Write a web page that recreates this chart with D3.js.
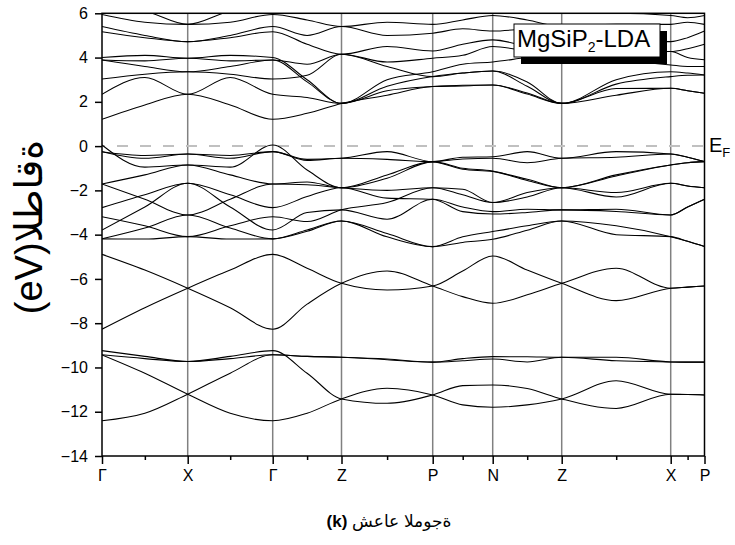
<!DOCTYPE html>
<html><head><meta charset="utf-8">
<script src="https://cdn.jsdelivr.net/npm/d3@7"></script>
<style>
body{margin:0;background:#fff;}
text{font-family:"Liberation Sans",Arial,"DejaVu Sans",sans-serif;}
</style></head>
<body><svg id="chart" width="735" height="545"></svg>
<script>
// high-symmetry k-points (cumulative path length) and labels
const kTicks = [0, 0.857, 1.707, 2.395, 3.307, 3.907, 4.597, 5.687, 6.025];
const kLabels = ["Γ","X","Γ","Z","P","N","Z","X","P"];
const yTicks = [6,4,2,0,-2,-4,-6,-8,-10,-12,-14];
// band energies (eV) at: Γ, mid, X, mid, Γ, mid, Z, mid, P, mid, N, mid, Z, mid, X, mid, P
const band_c1 = [1.21,1.86,2.34,1.86,1.21,1.48,1.93,2.3,2.69,2.72,2.76,2.35,1.93,2.3,2.61,2.5,2.39];
const band_c2 = [2.34,3.1,2.34,3.1,2.34,2.2,1.93,2.5,2.69,2.75,2.76,2.4,1.93,2.6,2.61,2.5,2.39];
const band_c3 = [3.03,3.25,3.36,3.25,3.03,3.2,4.15,3.6,3.14,3.3,3.39,2.7,1.93,2.8,3.14,3.2,3.21];
const band_c4 = [3.89,3.6,3.36,3.6,3.89,2.9,1.93,2.7,3.14,3.3,3.39,2.9,1.93,3.0,3.36,3.3,3.21];
const band_c5 = [4.0,4.1,3.97,4.1,4.0,3.0,1.93,3.0,3.36,3.7,3.8,4.0,4.15,3.9,3.665,3.6,3.6];
const band_c6 = [3.89,3.85,3.97,3.85,3.89,3.7,4.15,3.8,3.97,4.1,4.5,4.3,4.15,4.2,4.27,4.0,3.9];
const band_c7 = [5.17,4.9,4.72,4.9,5.17,4.6,4.15,4.5,4.3,4.6,4.8,4.5,4.15,4.6,4.27,4.4,4.6];
const band_c8 = [5.40,5.0,4.72,5.0,5.40,5.0,5.4,5.0,5.1,5.3,5.2,5.3,5.4,5.0,4.72,4.9,5.2];
const band_c9 = [5.95,5.6,5.5,5.6,5.95,5.7,5.4,5.6,5.5,5.7,5.9,5.7,5.4,5.5,5.5,5.6,5.5];
const band_c10 = [6.3,6.1,5.5,6.1,6.3,6.2,6.0,6.1,6.2,6.2,6.0,6.1,6.0,6.0,5.9,5.8,5.9];
const band_v1 = [0.05,-0.95,-0.85,-0.95,0.05,-1.08,-1.88,-1.3,-0.70,-1.0,-1.13,-1.55,-1.88,-1.35,-0.85,-0.75,-0.70];
const band_v2 = [-0.25,-0.42,-0.36,-0.42,-0.25,-0.6,-0.55,-0.25,-0.70,-0.5,-0.48,-0.25,-0.55,-0.25,-0.36,-0.5,-0.70];
const band_v3 = [-0.25,-0.55,-0.36,-0.55,-0.25,-0.65,-0.55,-0.6,-0.70,-0.58,-0.55,-0.75,-0.55,-0.5,-0.36,-0.5,-0.70];
const band_v4 = [-1.71,-1.3,-0.85,-1.3,-1.71,-1.62,-1.88,-1.45,-0.72,-1.05,-1.15,-1.5,-1.88,-1.3,-0.85,-0.75,-0.70];
const band_v5 = [-1.71,-2.4,-3.11,-2.4,-1.71,-1.75,-1.88,-2.0,-1.88,-1.95,-2.55,-2.1,-1.88,-2.3,-1.68,-1.8,-1.88];
const band_v6 = [-2.78,-2.2,-1.68,-2.2,-2.78,-2.28,-1.88,-2.35,-2.40,-2.96,-3.07,-3.0,-2.88,-2.95,-3.11,-2.75,-2.40];
const band_v7 = [-3.19,-3.6,-4.09,-3.6,-3.19,-3.41,-2.88,-2.55,-1.88,-2.2,-2.55,-2.3,-1.88,-2.1,-1.68,-1.8,-1.88];
const band_v8 = [-3.79,-2.75,-1.68,-2.75,-3.79,-3.0,-2.88,-3.3,-2.40,-2.75,-2.96,-2.85,-2.88,-2.85,-3.11,-2.75,-2.40];
const band_v9 = [-4.19,-4.2,-4.09,-4.2,-4.19,-3.79,-3.38,-3.95,-4.54,-4.1,-3.86,-3.6,-3.38,-3.6,-4.09,-4.3,-4.54];
const band_v10 = [-4.19,-3.7,-3.11,-3.7,-4.19,-3.85,-3.38,-4.1,-4.54,-4.35,-4.21,-3.8,-3.38,-4.0,-4.09,-4.3,-4.54];
const band_s1 = [-4.89,-5.6,-6.42,-7.3,-8.27,-7.14,-6.2,-5.64,-6.32,-6.8,-7.1,-6.72,-6.2,-5.52,-6.42,-6.37,-6.32];
const band_s2 = [-8.27,-7.3,-6.42,-5.6,-4.89,-5.52,-6.2,-6.5,-6.32,-5.64,-4.96,-5.6,-6.2,-6.98,-6.42,-6.37,-6.32];
const band_t1 = [-9.24,-9.5,-9.73,-9.5,-9.24,-10.26,-11.42,-11.62,-11.24,-10.82,-10.79,-10.95,-11.42,-11.85,-11.21,-11.22,-11.24];
const band_t2 = [-9.43,-9.6,-9.73,-9.6,-9.43,-9.5,-9.54,-9.62,-9.76,-9.6,-9.51,-9.52,-9.54,-9.54,-9.75,-9.76,-9.76];
const band_t3 = [-9.43,-10.26,-11.21,-12.07,-12.41,-12.07,-11.42,-10.94,-11.24,-11.69,-11.80,-11.69,-11.42,-10.6,-11.21,-11.22,-11.24];
const band_t4 = [-12.41,-12.07,-11.21,-10.26,-9.43,-9.5,-9.54,-9.65,-9.76,-9.7,-9.62,-9.75,-9.54,-9.7,-9.75,-9.76,-9.76];

const bands = [band_c1,band_c2,band_c3,band_c4,band_c5,band_c6,band_c7,band_c8,band_c9,band_c10,
  band_v1,band_v2,band_v3,band_v4,band_v5,band_v6,band_v7,band_v8,band_v9,band_v10,
  band_s1,band_s2,band_t1,band_t2,band_t3,band_t4];

// k grid: each high-symmetry point plus the midpoint of each segment
const kGrid = [];
kTicks.forEach((k,i)=>{ if(i>0) kGrid.push((kTicks[i-1]+k)/2); kGrid.push(k); });
const kMid = kTicks.slice(1).map((k,i)=>(kTicks[i]+k)/2);

const svg = d3.select("#chart");
const L = 102, R = 704.5, T = 13.3, B = 456;
const x = d3.scaleLinear().domain([kTicks[0], kTicks[kTicks.length-1]]).range([L,R]);
const y = d3.scaleLinear().domain([-14,6]).range([B,T]);

svg.append("defs").append("clipPath").attr("id","clip")
  .append("rect").attr("x",L).attr("y",T).attr("width",R-L).attr("height",B-T);

// high-symmetry vertical lines
svg.append("g").selectAll("line").data(kTicks.slice(1,-1)).join("line")
  .attr("x1",d=>x(d)).attr("x2",d=>x(d)).attr("y1",T).attr("y2",B)
  .attr("stroke","#808080").attr("stroke-width",1.5);

// Fermi level
svg.append("line").attr("x1",L).attr("x2",R).attr("y1",y(0)).attr("y2",y(0))
  .attr("stroke","#c0c0c0").attr("stroke-width",2).attr("stroke-dasharray","11,12")
  .attr("stroke-dashoffset",-15);

// bands
const line = d3.line().x((d,i)=>x(kGrid[i])).y(d=>y(d)).curve(d3.curveMonotoneX);
svg.append("g").attr("clip-path","url(#clip)").selectAll("path").data(bands).join("path")
  .attr("d",line).attr("fill","none").attr("stroke","#000").attr("stroke-width",1.05);

// legend box
const lg = svg.append("g");
lg.append("rect").attr("x",521).attr("y",31).attr("width",146).attr("height",33).attr("fill","#000");
lg.append("rect").attr("x",514).attr("y",24).attr("width",146).attr("height",33)
  .attr("fill","#fff").attr("stroke","#000").attr("stroke-width",1);
const lt = lg.append("text").attr("x",517).attr("y",47).attr("font-size",24);
lt.append("tspan").text("MgSiP");
lt.append("tspan").attr("font-size",14).attr("dy",5).text("2");
lt.append("tspan").attr("dy",-5).text("-LDA");

// frame
svg.append("rect").attr("x",L).attr("y",T).attr("width",R-L).attr("height",B-T)
  .attr("fill","none").attr("stroke","#000").attr("stroke-width",1.5);

// axes
const yAxis = d3.axisLeft(y).tickValues(yTicks).tickSize(7).tickPadding(7).tickFormat(d3.format("d"));
const gy = svg.append("g").attr("transform",`translate(${L},0)`).call(yAxis);
gy.select(".domain").remove();
gy.selectAll("line").attr("stroke-width",1.5);
gy.selectAll("text").attr("font-size",16).attr("font-family",null);

const xAxis = d3.axisBottom(x).tickValues(kTicks).tickSize(8).tickPadding(6).tickFormat((d,i)=>kLabels[i]);
const gx = svg.append("g").attr("transform",`translate(0,${B})`).call(xAxis);
gx.select(".domain").remove();
gx.selectAll("line").attr("stroke-width",1.5);
gx.selectAll("text").attr("font-size",16).attr("font-family",null);
const xMinor = d3.axisBottom(x).tickValues(kMid).tickSize(4).tickFormat("");
const gxm = svg.append("g").attr("transform",`translate(0,${B})`).call(xMinor);
gxm.select(".domain").remove();
gxm.selectAll("line").attr("stroke-width",1.5);

// E_F label
const ef = svg.append("text").attr("x",709).attr("y",152).attr("font-size",20);
ef.append("tspan").text("E");
ef.append("tspan").attr("font-size",13).attr("dy",5).text("F");

// axis titles
svg.append("text").attr("transform","translate(42,227) rotate(-90)")
  .attr("text-anchor","middle").attr("font-size",38)
  .text("\u202D(eV)الطاقة\u202C");
const xt = svg.append("text").attr("x",389).attr("y",527).attr("text-anchor","middle").attr("font-size",17);
xt.append("tspan").attr("font-weight","bold").text("(k) ");
xt.append("tspan").text("\u202Dشعاع الموجة\u202C");
</script></body></html>
